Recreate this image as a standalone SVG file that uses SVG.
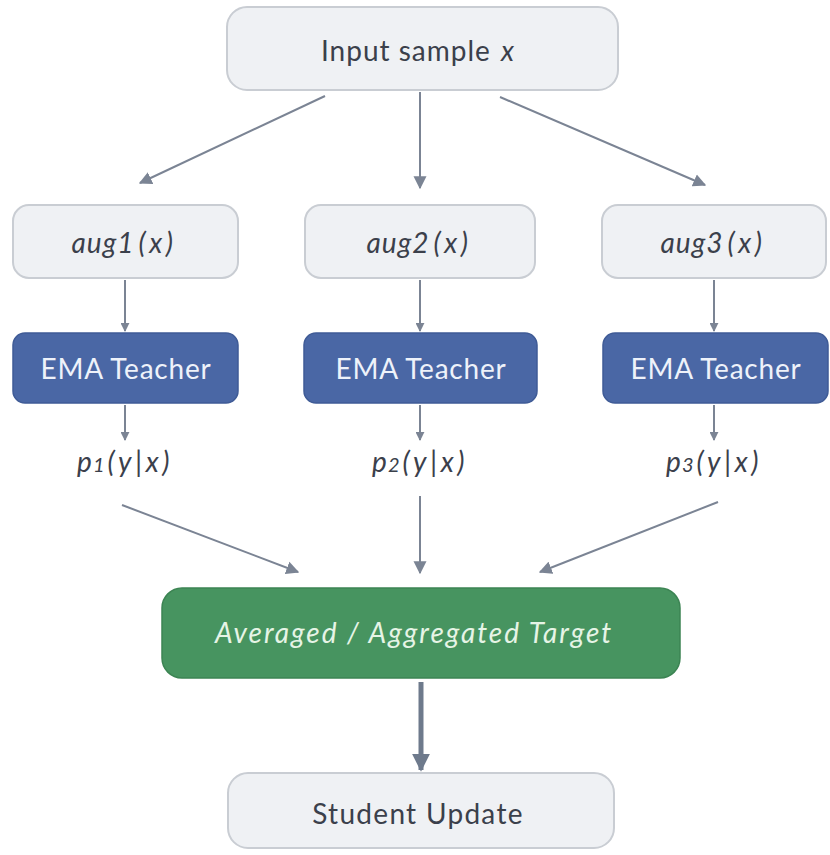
<svg xmlns="http://www.w3.org/2000/svg" width="830" height="855" viewBox="0 0 830 855">
<defs>
<marker id="ah" viewBox="0 0 10 10" refX="9" refY="5" markerWidth="9" markerHeight="9" markerUnits="userSpaceOnUse" orient="auto"><path d="M0,0 L10,5 L0,10 z" fill="#7b8494"/></marker>
<marker id="ahs" viewBox="0 0 10 10" refX="9" refY="5" markerWidth="13" markerHeight="14" markerUnits="userSpaceOnUse" orient="auto"><path d="M0,0 L10,5 L0,10 z" fill="#7b8494"/></marker>
<marker id="ahl" viewBox="0 0 10 10" refX="9" refY="5" markerWidth="18" markerHeight="20" markerUnits="userSpaceOnUse" orient="auto"><path d="M0,0 L10,5 L0,10 z" fill="#6e7a8c"/></marker>
</defs>
<style>
.gbox{fill:#eff1f4;stroke:#c9cdd3;stroke-width:2}
.bbox{fill:#4a67a5;stroke:#3f5b96;stroke-width:1.5}
.grn{fill:#479460;stroke:#3c8453;stroke-width:1.5}
.t{font-family:Lato,"Open Sans","DejaVu Sans",sans-serif;font-size:28px;fill:#3b404b;text-anchor:middle}
.i{font-style:italic}
.m{letter-spacing:1px}
.a{letter-spacing:3.5px}
.w{fill:#eef2fa;letter-spacing:0.8px}
.gw{fill:#e6f4e6}
.c{stroke:#7b8494;stroke-width:2;fill:none}
</style>
<rect width="830" height="855" fill="#ffffff"/>
<g id="connectors">
<line class="c" x1="325" y1="96" x2="140" y2="183" marker-end="url(#ahs)"/>
<line class="c" x1="420" y1="92" x2="420" y2="188" marker-end="url(#ahs)"/>
<line class="c" x1="500" y1="97" x2="705" y2="185" marker-end="url(#ahs)"/>
<line class="c" x1="125" y1="280" x2="125" y2="331" marker-end="url(#ah)"/>
<line class="c" x1="420" y1="280" x2="420" y2="331" marker-end="url(#ah)"/>
<line class="c" x1="714" y1="280" x2="714" y2="331" marker-end="url(#ah)"/>
<line class="c" x1="125" y1="405" x2="125" y2="440" marker-end="url(#ah)"/>
<line class="c" x1="420" y1="405" x2="420" y2="440" marker-end="url(#ah)"/>
<line class="c" x1="714" y1="405" x2="714" y2="440" marker-end="url(#ah)"/>
<line class="c" x1="122" y1="505" x2="298" y2="572" marker-end="url(#ahs)"/>
<line class="c" x1="420" y1="496" x2="420" y2="573" marker-end="url(#ahs)"/>
<line class="c" x1="718" y1="502" x2="540" y2="572" marker-end="url(#ahs)"/>
<line x1="421" y1="682" x2="421" y2="770" stroke="#6e7a8c" stroke-width="5" marker-end="url(#ahl)"/>
</g>
<g id="input">
<rect class="gbox" x="227" y="7" width="391" height="83" rx="20"/>
<text class="t" x="418" y="61" font-size="29" letter-spacing="1">Input sample <tspan class="i" dx="2">x</tspan></text>
</g>
<g id="aug1">
<rect class="gbox" x="13" y="205" width="225" height="73" rx="16"/>
<text class="t i m" x="124" y="253">aug1<tspan class="a" dx="4">(x)</tspan></text>
</g>
<g id="aug2">
<rect class="gbox" x="305" y="205" width="230" height="73" rx="16"/>
<text class="t i m" x="419" y="253">aug2<tspan class="a" dx="4">(x)</tspan></text>
</g>
<g id="aug3">
<rect class="gbox" x="602" y="205" width="224" height="73" rx="16"/>
<text class="t i m" x="713" y="253">aug3<tspan class="a" dx="4">(x)</tspan></text>
</g>
<g id="ema1">
<rect class="bbox" x="13" y="333" width="225" height="70" rx="12"/>
<text class="t w" x="126" y="379">EMA Teacher</text>
</g>
<g id="ema2">
<rect class="bbox" x="304" y="333" width="233" height="70" rx="12"/>
<text class="t w" x="421" y="379">EMA Teacher</text>
</g>
<g id="ema3">
<rect class="bbox" x="603" y="333" width="225" height="70" rx="12"/>
<text class="t w" x="716" y="379">EMA Teacher</text>
</g>
<g id="p1">
<text class="t i m" x="125" y="472">p<tspan font-size="20">1</tspan><tspan class="a" dx="2">(y|x)</tspan></text>
</g>
<g id="p2">
<text class="t i m" x="420" y="472">p<tspan font-size="20">2</tspan><tspan class="a" dx="2">(y|x)</tspan></text>
</g>
<g id="p3">
<text class="t i m" x="714" y="472">p<tspan font-size="20">3</tspan><tspan class="a" dx="2">(y|x)</tspan></text>
</g>
<g id="aggregate">
<rect class="grn" x="162" y="588" width="518" height="90" rx="20"/>
<text class="t i gw" x="414" y="643" font-size="30" letter-spacing="2">Averaged / Aggregated Target</text>
</g>
<g id="student">
<rect class="gbox" x="228" y="773" width="386" height="75" rx="20"/>
<text class="t" x="418" y="824" font-size="29" letter-spacing="1.3">Student Update</text>
</g>
</svg>
